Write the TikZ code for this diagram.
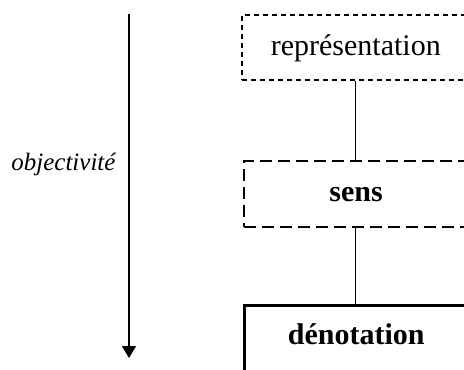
\documentclass[tikz,border=0pt]{standalone}
\usepackage{fontspec}
\setmainfont{Liberation Serif}
\usetikzlibrary{positioning,arrows.meta}

\tikzset{
  levelbox/.style={draw, inner xsep=0pt, inner ysep=0pt, text height=8.5pt, text depth=2.5pt, font=\fontsize{12}{14}\selectfont},
  repbox/.style={levelbox, line width=0.6pt, dash pattern=on 2pt off 1.6pt, minimum width=91.2pt, minimum height=26pt},
  sensbox/.style={levelbox, line width=0.8pt, dash pattern=on 4.8pt off 2.4pt, minimum width=89.6pt, minimum height=26.4pt, font=\fontsize{12}{14}\selectfont\bfseries},
  denbox/.style={levelbox, line width=1pt, minimum width=89.6pt, text height=15.6pt, text depth=40pt, font=\fontsize{12}{14}\selectfont\bfseries}
}

\begin{document}
\begin{tikzpicture}[x=0.4pt, y=-0.4pt]
      \useasboundingbox (0,0) rectangle (464,369);
      \clip (0,0) rectangle (464,369);

      % Define the nodes of the three levels
      \node[repbox, anchor=west] (rep) at (241,47.5) {représentation};
      \node[sensbox, anchor=west] (sens) at (243,194) {sens};
      \node[denbox, anchor=north west] (den) at (243,304) {dénotation};

      % Draw the links between the levels
      \coordinate (link) at (355,0);
      \draw[line width=0.4pt] (link |- rep.south) -- (link |- sens.north);
      \draw[line width=0.4pt] (link |- sens.south) -- (link |- den.north);

      % Define the axis on the left
      \coordinate (top) at (129,14);
      \coordinate (bottom) at (129,358);
      \node[anchor=base east, inner sep=0pt, font=\fontsize{10}{12}\selectfont\itshape] (obj) at (116,170) {objectivité};

      \draw[line width=0.5pt, -{Triangle[length=4.8pt, width=5.6pt]}] (top) -- (bottom);
\end{tikzpicture}
\end{document}
